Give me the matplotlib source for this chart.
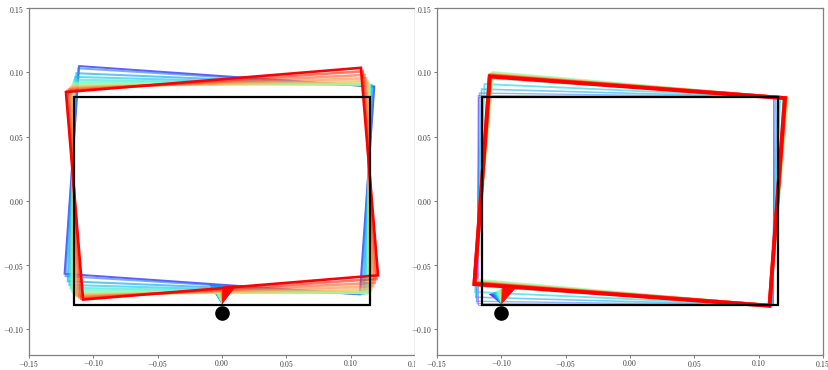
import numpy as np
import matplotlib
matplotlib.use("Agg")
import matplotlib.pyplot as plt
from matplotlib.patches import Polygon, Rectangle
from matplotlib.ticker import FuncFormatter

plt.rcParams['mathtext.fontset'] = 'cm'
plt.rcParams['font.family'] = 'serif'

# block geometry (half sizes) and ground contact
half_w = 0.115
half_h = 0.081
ground_y = -0.0805
dot_y = -0.087

# left run: contact at x = 0
contact_l = 0.0
theta_l = [-4.0, -3.5, -2.4, -1.6, -1.0, -0.6, -0.3, 0.0, 0.3, 0.7, 1.2, 1.9, 2.8, 3.8, 4.7]
cx_l = [-0.002, -0.0018, -0.0016, -0.0014, -0.0012, -0.001, -0.0008, -0.0006,
        -0.0005, -0.0004, -0.0003, -0.0002, -0.0001, 0.0, 0.0]
cy_l = [0.016, 0.0152, 0.0135, 0.0122, 0.0112, 0.0104, 0.0098, 0.0095, 0.0094, 0.0096,
        0.010, 0.0106, 0.0114, 0.0123, 0.0133]
cone_lo_l = [-0.010, -0.0095, -0.009, -0.008, -0.007, -0.006, -0.005, -0.004, -0.0035,
             -0.003, -0.002, -0.001, -0.0005, 0.0, 0.0005]
cone_hi_l = [0.0, 0.0005, 0.001, 0.002, 0.003, 0.004, 0.005, 0.006, 0.0065, 0.007,
             0.008, 0.009, 0.0095, 0.0105, 0.0115]
cone_y_l = [-0.065, -0.0655, -0.0662, -0.067, -0.068, -0.069, -0.0698, -0.0703,
            -0.0705, -0.0703, -0.0698, -0.069, -0.068, -0.0672, -0.0665]

# right run: contact at x = -0.1
contact_r = -0.1
theta_r = [0.0, -0.3, -0.8, -1.6, -2.6, -3.8, -4.6, -5.0, -4.8, -4.6, -4.5, -4.4, -4.3, -4.2]
cx_r = [-0.0035, -0.0034, -0.0031, -0.0026, -0.0018, -0.0008, 0.0003, 0.001, 0.0006,
        0.0003, 0.0001, 0.0, -0.0002, -0.0003]
cy_r = [-0.0002, 0.0003, 0.0012, 0.0027, 0.0047, 0.0069, 0.0085, 0.0092, 0.0088,
        0.0085, 0.0083, 0.0081, 0.0078, 0.0075]
cone_lo_r = [-0.110, -0.109, -0.108, -0.107, -0.106, -0.105, -0.104, -0.103, -0.102,
             -0.101, -0.1005, -0.100, -0.0995, -0.099]
cone_hi_r = [-0.100, -0.099, -0.098, -0.097, -0.096, -0.095, -0.094, -0.093, -0.092,
             -0.0915, -0.091, -0.090, -0.0895, -0.089]
cone_y_r = [-0.0725, -0.0722, -0.0718, -0.0714, -0.071, -0.0705, -0.070, -0.0695,
            -0.069, -0.0688, -0.0685, -0.0682, -0.0678, -0.0675]

xticks = [-0.15, -0.10, -0.05, 0.00, 0.05, 0.10, 0.15]
yticks = [-0.10, -0.05, 0.00, 0.05, 0.10, 0.15]


def body_points(cx, cy, th, local):
    t = np.deg2rad(th)
    c, s = np.cos(t), np.sin(t)
    local = np.asarray(local)
    x = cx + local[:, 0] * c - local[:, 1] * s
    y = cy + local[:, 0] * s + local[:, 1] * c
    return np.column_stack([x, y])


def draw_run(ax, contact_x, theta, cx, cy, lo, hi, cone_y, cstart, lw0, lw1, alphas):
    n = len(theta)
    colors = plt.cm.rainbow(np.linspace(cstart, 1, n))
    lws = np.linspace(lw0, lw1, n)
    corners = [(-half_w, -half_h), (half_w, -half_h), (half_w, half_h), (-half_w, half_h)]
    for i in range(n):
        pts = body_points(cx[i], cy[i], theta[i], corners)
        ax.add_patch(Polygon(pts, closed=True, fill=False, edgecolor=colors[i],
                             lw=lws[i], alpha=alphas[i], joinstyle='miter', zorder=3))
        slope = np.tan(np.deg2rad(theta[i]))
        tri = [(contact_x, ground_y), (lo[i], cone_y[i]),
               (hi[i], cone_y[i] + (hi[i] - lo[i]) * slope)]
        ax.add_patch(Polygon(tri, closed=True, facecolor=colors[i], edgecolor='none',
                             alpha=0.85, zorder=3))
    ax.add_patch(Rectangle((-half_w, -half_h), 2 * half_w, 2 * half_h, fill=False,
                           edgecolor='black', lw=1.6, zorder=4))
    ax.plot([contact_x], [dot_y], 'o', color='black', ms=9.5, zorder=5)


def style_axes(ax):
    ax.set_xlim(-0.15, 0.15)
    ax.set_ylim(-0.12, 0.15)
    ax.set_xticks(xticks)
    ax.set_yticks(yticks)
    fmt = FuncFormatter(lambda v, p: '$%.2f$' % v)
    ax.xaxis.set_major_formatter(fmt)
    ax.yaxis.set_major_formatter(fmt)
    ax.tick_params(labelsize=5.5, length=2.2, width=0.7, pad=1.2,
                   color='#777777', labelcolor='#333333')
    ax.tick_params(axis='x', pad=0.3)
    for sp in ax.spines.values():
        sp.set_color('#808080')
        sp.set_linewidth(0.9)


W, H = 829, 370
fig = plt.figure(figsize=(W / 100, H / 100), dpi=100)
ax1 = fig.add_axes([29 / W, 15 / H, 386 / W, 347 / H])
ax2 = fig.add_axes([437 / W, 15 / H, 386 / W, 347 / H])

alpha_l = [0.9] + [0.65] * (len(theta_l) - 2) + [1.0]
alpha_r = np.linspace(0.45, 1.0, len(theta_r))
draw_run(ax1, contact_l, theta_l, cx_l, cy_l, cone_lo_l, cone_hi_l, cone_y_l, 0.1, 1.4, 1.9, alpha_l)
draw_run(ax2, contact_r, theta_r, cx_r, cy_r, cone_lo_r, cone_hi_r, cone_y_r, 0.0, 0.7, 2.8, alpha_r)

style_axes(ax1)
style_axes(ax2)

# the two panels were rendered separately; the right one covers the edge of the left
ax1.set_zorder(1)
fig.add_artist(Rectangle((415 / W, 0), 1 - 415 / W, 1, transform=fig.transFigure,
                         facecolor='white', edgecolor='none', zorder=1.5))
ax2.set_zorder(2)

fig.savefig('out.png', dpi=100)
